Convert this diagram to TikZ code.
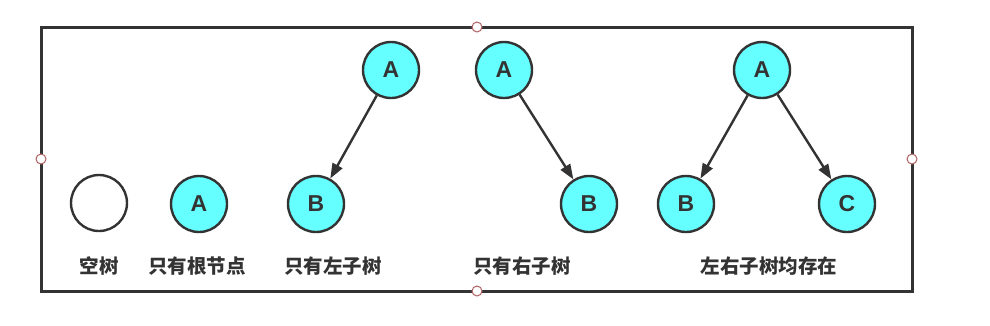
\documentclass[tikz,border=0pt]{standalone}
\usepackage{fontspec}
\setmainfont{Liberation Sans}
\newfontfamily\cjk{Noto Sans CJK SC}
\usetikzlibrary{arrows.meta,positioning}
\definecolor{ink}{HTML}{333333}
\definecolor{aqua}{HTML}{66FFFF}
\definecolor{handle}{HTML}{B06060}
\tikzset{treenode/.style={circle,draw=ink,line width=2.4pt,fill=aqua,minimum size=56pt,inner sep=0pt,font=\fontsize{23}{23}\selectfont\bfseries,text=ink},emptynode/.style={treenode,fill=white},caption/.style={font=\cjk\fontsize{19.5}{20}\selectfont\bfseries,text=ink},edge/.style={-{Triangle[length=15pt,width=11pt]},line width=2.4pt,draw=ink},grip/.style={circle,draw=handle,fill=white,line width=1pt,minimum size=10pt,inner sep=0pt}}

\begin{document}
\begin{tikzpicture}[x=1pt,y=-1pt]
\useasboundingbox (0,0) rectangle (990,325);
\draw[ink,line width=3pt](41,27) rectangle (912,291);
\node[grip](gt) at (477,27){};\node[grip](gl) at (41,159){};
\node[grip](gr) at (912,159){};\node[grip](gb) at (477,291){};
\node[emptynode](empty) at (99,203){};
\node[treenode](root) at (199,204){A};
\node[treenode](la) at (391,70){A};
\node[treenode](lb) at (316,204){B};
\node[treenode](ra) at (504,70){A};
\node[treenode](rb) at (589,204){B};
\node[treenode](fa) at (762,70){A};
\node[treenode](fb) at (686,204){B};
\node[treenode](fc) at (847,204){C};
\draw[edge](la)--(lb);\draw[edge](ra)--(rb);
\draw[edge](fa)--(fb);\draw[edge](fa)--(fc);
\node[caption](t1) at (99,266){空树};
\node[caption](t2) at (197,266){只有根节点};
\node[caption](t3) at (333,266){只有左子树};
\node[caption](t4) at (522,266){只有右子树};
\node[caption](t5) at (769,266){左右子树均存在};
\end{tikzpicture}
\end{document}
